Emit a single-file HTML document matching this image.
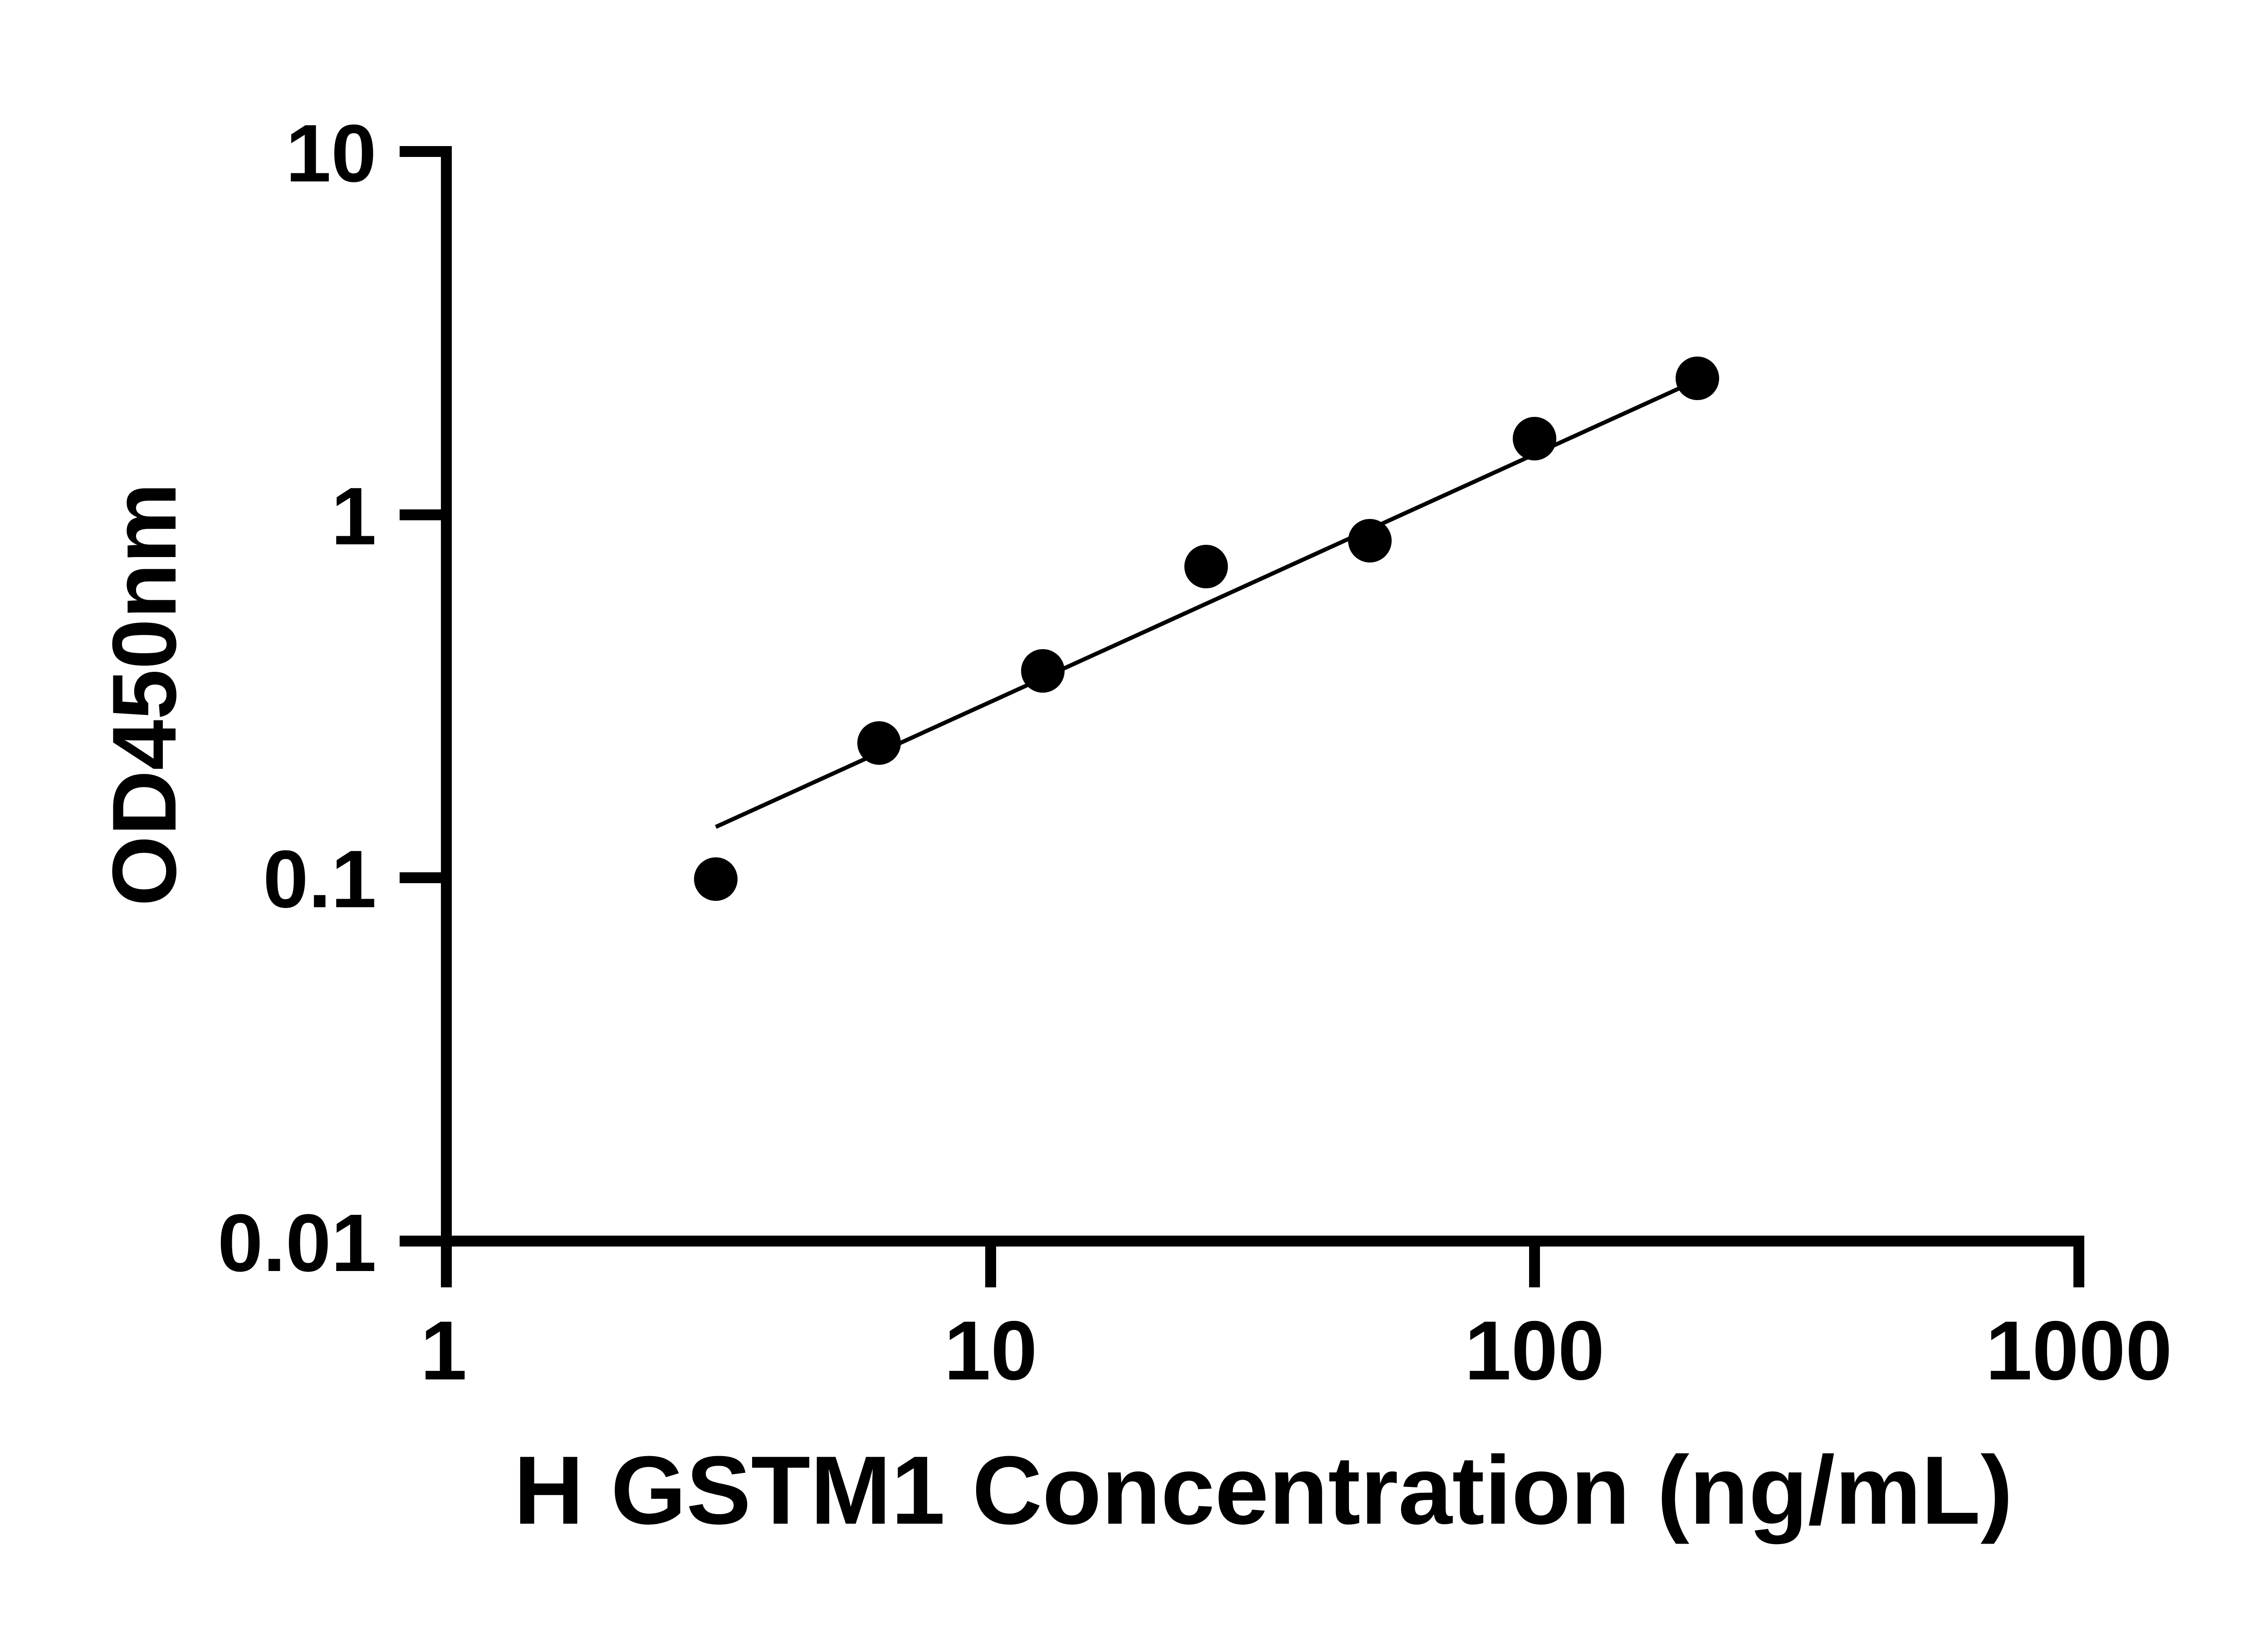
<!DOCTYPE html>
<html><head><meta charset="utf-8"><style>
html,body{margin:0;padding:0;background:#fff;}
svg{display:block;}
text{font-family:"Liberation Sans",sans-serif;font-weight:bold;fill:#000;}
</style></head><body>
<svg width="5136" height="3600" viewBox="0 0 5136 3600" xmlns="http://www.w3.org/2000/svg">
<g stroke="#000" stroke-width="24" fill="none" stroke-linecap="butt">
<line x1="984" y1="322" x2="984" y2="2838"/>
<line x1="972" y1="2736" x2="4595" y2="2736"/>
<line x1="881" y1="334" x2="996" y2="334"/>
<line x1="881" y1="1135" x2="984" y2="1135"/>
<line x1="881" y1="1935" x2="984" y2="1935"/>
<line x1="881" y1="2736" x2="984" y2="2736"/>
<line x1="2184" y1="2736" x2="2184" y2="2838"/>
<line x1="3383" y1="2736" x2="3383" y2="2838"/>
<line x1="4583" y1="2724" x2="4583" y2="2838"/>
</g>
<g font-size="180" text-anchor="end">
<text x="830" y="400">10</text>
<text x="830" y="1200">1</text>
<text x="830" y="2000">0.1</text>
<text x="830" y="2802">0.01</text>
</g>
<g font-size="185" text-anchor="middle">
<text x="978" y="3041">1</text>
<text x="2184" y="3041">10</text>
<text x="3383" y="3041">100</text>
<text x="4583" y="3041">1000</text>
</g>
<text x="2785" y="3359" font-size="214" text-anchor="middle">H GSTM1 Concentration (ng/mL)</text>
<text transform="translate(387,1531) rotate(-90)" font-size="200" text-anchor="middle">OD450nm</text>
<line x1="1578" y1="1823" x2="3742" y2="838" stroke="#000" stroke-width="9"/>
<g fill="#000">
<circle cx="1578" cy="1938" r="48"/>
<circle cx="1938" cy="1638" r="48"/>
<circle cx="2299" cy="1479" r="48"/>
<circle cx="2659" cy="1249" r="48"/>
<circle cx="3020" cy="1192" r="48"/>
<circle cx="3383" cy="967" r="48"/>
<circle cx="3742" cy="834" r="48"/>
</g>
</svg>
</body></html>
